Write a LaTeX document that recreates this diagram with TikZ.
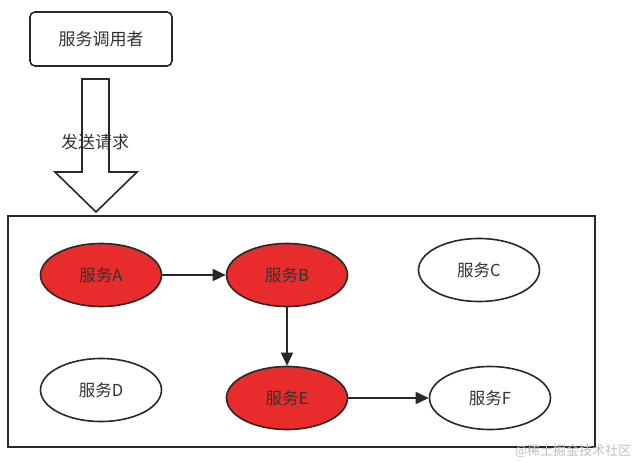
\documentclass[tikz,border=0pt]{standalone}
\usepackage{fontspec}
\setmainfont{Noto Sans CJK SC}
\usepackage{tikz}
\usetikzlibrary{arrows.meta, positioning, shapes.geometric, calc}
\definecolor{svcred}{RGB}{232, 44, 44}
\definecolor{linegray}{RGB}{40, 40, 40}
\definecolor{textgray}{RGB}{50, 50, 50}

\begin{document}
\begin{tikzpicture}[
  x=1pt, y=-1pt,
  caller/.style={rectangle, rounded corners=5pt, draw=linegray, line width=1.6pt,
                 minimum width=142pt, minimum height=54pt, font=\fontsize{17}{19}\selectfont, text=textgray},
  svc/.style={ellipse, draw=linegray, line width=1.6pt, fill=white, inner sep=0pt,
              minimum width=121pt, minimum height=63pt, font=\fontsize{16.5}{19}\selectfont, text=textgray},
  hotsvc/.style={svc, fill=svcred},
  arr/.style={-{Triangle[length=13pt, width=12pt]}, line width=1.6pt, linegray}
]
\useasboundingbox (0,0) rectangle (637,463);
\fill[white] (0,0) rectangle (637,463);

\node[caller] (caller) at (101,39) {服务调用者};

% frame round the services
\draw[linegray, line width=1.8pt] (8,216) rectangle (595,447);

\node[hotsvc] (A) at (101,275) {服务A};
\node[hotsvc] (B) at (287,275) {服务B};
\node[svc]    (C) at (479,270) {服务C};
\node[svc]    (D) at (101,390) {服务D};
\node[hotsvc] (E) at (287,398) {服务E};
\node[svc]    (F) at (490,398) {服务F};

\draw[arr] (A) -- (B);
\draw[arr] (B) -- (E);
\draw[arr] (E) -- (F);

% hollow request arrow
\draw[linegray, line width=1.6pt, line join=miter]
  (82,79) -- (109,79) -- (109,172) -- (137,172) -- (96,212)
  -- (55,172) -- (82,172) -- cycle;
\node[font=\fontsize{17}{19}\selectfont, text=textgray] (req) at (95,142) {发送请求};

\node[font=\fontsize{13}{15}\selectfont, text=black!25] (mark) at (573,451) {@稀土掘金技术社区};
\end{tikzpicture}
\end{document}
